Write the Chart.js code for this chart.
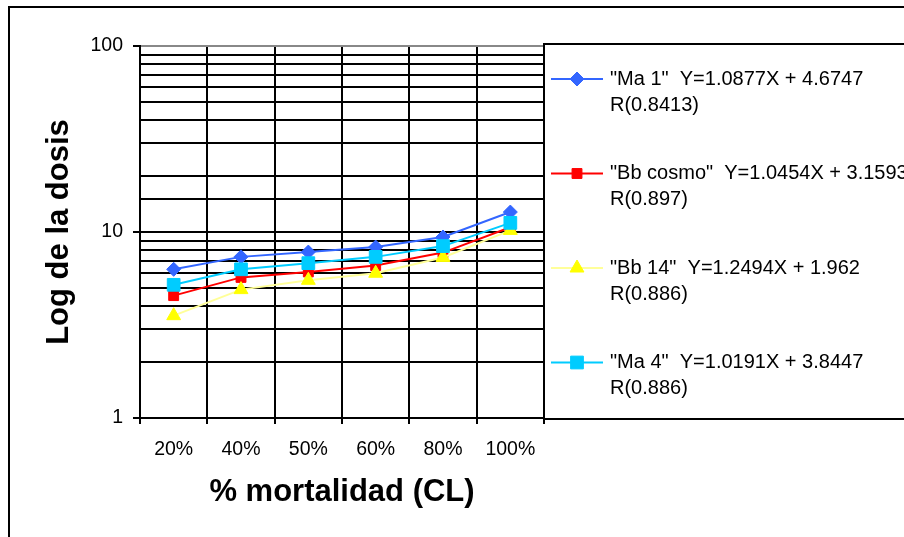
<!DOCTYPE html>
<html lang="es">
<head>
  <meta charset="UTF-8">
  <title>Log de la dosis</title>
  <script src="https://cdn.jsdelivr.net/npm/chart.js"></script>
  <style>
    body { margin: 0; background: #fff; }
    #wrap { width: 904px; height: 537px; }
  </style>
</head>
<body>
  <div id="wrap"><canvas id="chart" width="904" height="537"></canvas></div>
  <script>
    const categories = ['20%', '40%', '50%', '60%', '80%', '100%'];
    const ma1 = [6.3, 7.35, 7.8, 8.3, 9.4, 12.8];
    const bbCosmo = [4.55, 5.7, 6.1, 6.6, 7.75, 10.6];
    const bb14 = [3.55, 4.9, 5.5, 6.0, 7.3, 10.2];
    const ma4 = [5.2, 6.3, 6.8, 7.35, 8.4, 11.2];
    const seriesNames = ['Ma 1', 'Bb cosmo', 'Bb 14', 'Ma 4'];
    const equations = ['Y=1.0877X + 4.6747', 'Y=1.0454X + 3.1593', 'Y=1.2494X + 1.962', 'Y=1.0191X + 3.8447'];
    const rValues = ['0.8413', '0.897', '0.886', '0.886'];
    const yLabels = [1, 10, 100];

    const FONT = '"Liberation Sans", Arial, sans-serif';

    // frame + legend box, legend drawn from dataset info
    const decorations = {
      id: 'decorations',
      afterDraw(chart) {
        const ctx = chart.ctx;
        const area = chart.chartArea;
        ctx.save();
        ctx.strokeStyle = '#000';
        ctx.lineWidth = 2;
        ctx.strokeRect(9, 7, 1000, 1000);
        ctx.strokeRect(area.right, 44, 400, 375);

        chart.data.datasets.forEach((ds, i) => {
          const y = 79 + i * 94.5;
          ctx.strokeStyle = ds.borderColor;
          ctx.lineWidth = 2;
          ctx.beginPath();
          ctx.moveTo(551, y);
          ctx.lineTo(603, y);
          ctx.stroke();
          ctx.fillStyle = ds.pointBackgroundColor;
          ctx.strokeStyle = ds.pointBorderColor;
          ctx.lineWidth = 1;
          Chart.helpers.drawPoint(ctx, { pointStyle: ds.pointStyle, radius: ds.pointRadius, rotation: 0, borderWidth: 1 }, 577, y);
          ctx.fillStyle = '#000';
          ctx.font = '20px ' + FONT;
          ctx.textBaseline = 'middle';
          ctx.textAlign = 'left';
          ctx.fillText('"' + ds.label + '"  ' + ds.equation, 610, y);
          ctx.fillText('R(' + ds.r + ')', 610, y + 26);
        });
        ctx.restore();
      }
    };

    const colors = ['#3366FF', '#FF0000', '#FFFF99', '#00CCFF'];
    const pointFill = ['#3366FF', '#FF0000', '#FFFF00', '#00CCFF'];
    const styles = ['rectRot', 'rect', 'triangle', 'rect'];
    const radii = [7, 7, 8, 9];
    const values = [ma1, bbCosmo, bb14, ma4];

    const datasets = values.map((v, i) => ({
      label: seriesNames[i],
      equation: equations[i],
      r: rValues[i],
      data: v,
      borderColor: colors[i],
      borderWidth: 2,
      pointStyle: styles[i],
      pointRadius: radii[i],
      pointHoverRadius: radii[i],
      pointBackgroundColor: pointFill[i],
      pointBorderColor: pointFill[i],
      pointBorderWidth: 1,
      tension: 0,
      order: 4 - i
    }));

    new Chart(document.getElementById('chart'), {
      type: 'line',
      data: { labels: categories, datasets },
      options: {
        responsive: false,
        animation: false,
        layout: { padding: { left: 0, top: 46, right: 360, bottom: 0 } },
        plugins: { legend: { display: false }, tooltip: { enabled: false } },
        scales: {
          x: {
            offset: true,
            grid: { offset: true, color: '#000', lineWidth: 2, tickLength: 6, tickColor: '#000' },
            border: { color: '#000', width: 2 },
            ticks: { color: '#000', font: { family: FONT, size: 19.5 }, padding: 14, maxRotation: 0 },
            title: { display: true, text: '% mortalidad (CL)', color: '#000', font: { family: FONT, size: 31, weight: 'bold' }, padding: { bottom: 26 } },
            afterFit(scale) { scale.height = 119; }
          },
          y: {
            type: 'logarithmic',
            min: 1,
            max: 100,
            grid: {
              color: ctx => (ctx.tick && ctx.tick.value === 100 ? '#888' : '#000'),
              lineWidth: 2,
              tickLength: 7,
              tickColor: ctx => (ctx.tick && yLabels.includes(ctx.tick.value) ? '#000' : 'rgba(0,0,0,0)')
            },
            border: { color: '#000', width: 2 },
            ticks: {
              color: '#000',
              font: { family: FONT, size: 19.5 },
              padding: 10,
              autoSkip: false,
              callback: v => (yLabels.includes(v) ? String(v) : '')
            },
            title: { display: true, text: 'Log de la dosis', color: '#000', font: { family: FONT, size: 31, weight: 'bold' }, padding: { top: 41 } },
            afterFit(scale) { scale.width = 140; }
          }
        }
      },
      plugins: [decorations]
    });
  </script>
</body>
</html>
